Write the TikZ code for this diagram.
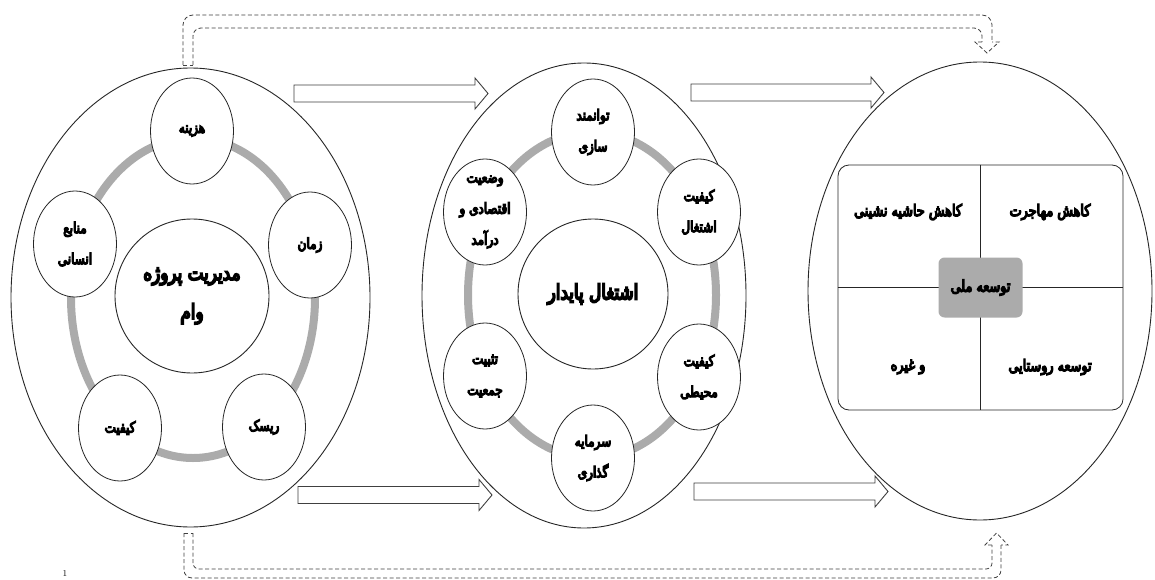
\documentclass[tikz,border=0pt]{standalone}
\usepackage{fontspec}
\usetikzlibrary{shapes.geometric}
\TeXXeTstate=1
\newfontfamily\arabicfont[Script=Arabic, FakeBold=8, FakeStretch=0.8]{DejaVu Sans}
\newcommand{\prl}[1]{\beginR #1\endR}
\newcommand{\blockarr}[4]{% name, tail x, mid y, tip x
  \draw[blockarrow] (#2,#3-8.5) -- (#4-13,#3-8.5) -- (#4-13,#3-15.5) -- (#4,#3)
     -- (#4-13,#3+15.5) -- (#4-13,#3+8.5) -- (#2,#3+8.5) -- cycle;
  \coordinate (#1) at (#4,#3);}
\begin{document}
\begin{tikzpicture}[x=1pt,y=-1pt,
  big/.style={ellipse, draw=black!85, line width=0.9pt, fill=white, inner sep=0pt},
  ring/.style={ellipse, draw=black!33, line width=8pt, inner sep=0pt},
  hub/.style={circle, draw=black!85, line width=0.9pt, fill=white, inner sep=0pt,
     align=center, font={\arabicfont\fontsize{21pt}{39pt}\selectfont}},
  sat/.style={ellipse, draw=black!85, line width=0.8pt, fill=white, inner sep=0pt,
     minimum width=83pt, minimum height=106pt, align=center,
     font={\arabicfont\fontsize{15pt}{31pt}\selectfont}},
  quad/.style={font={\arabicfont\fontsize{16pt}{20pt}\selectfont}},
  blockarrow/.style={draw=black!75, line width=0.9pt, fill=white},
  hollowdash/.style={draw=black!75, line width=0.8pt, dash pattern=on 4pt off 2.5pt}]
\useasboundingbox (0,0) rectangle (1155,580);
\fill[white] (0,0) rectangle (1155,580);

% ---------- left group ----------
\node[big, minimum width=359pt, minimum height=459pt] (L) at (190.5,297.5) {};
\node[ring, minimum width=244pt, minimum height=320pt] (Lring) at (193,298) {};
\node[hub, minimum size=154pt] (Lhub) at (192,296) {\prl{مدیریت پروژه}\\\prl{وام}};
\node[sat] (l1) at (192,131) {\prl{هزینه}};
\node[sat] (l2) at (310,245) {\prl{زمان}};
\node[sat] (l3) at (264,427) {\prl{ریسک}};
\node[sat] (l4) at (120,428) {\prl{کیفیت}};
\node[sat] (l5) at (75,244) {\prl{منابع}\\\prl{انسانی}};

% ---------- middle group ----------
\node[big, minimum width=324pt, minimum height=465pt] (M) at (584,295.5) {};
\node[ring, minimum width=248pt, minimum height=326pt] (Mring) at (592,295) {};
\node[hub, minimum size=150pt] (Mhub) at (593,294) {\prl{اشتغال پایدار}};
\node[sat] (m1) at (593,132) {\prl{توانمند}\\\prl{سازی}};
\node[sat] (m2) at (699,212) {\prl{کیفیت}\\\prl{اشتغال}};
\node[sat] (m3) at (699,377) {\prl{کیفیت}\\\prl{محیطی}};
\node[sat] (m4) at (593,458) {\prl{سرمایه}\\\prl{گذاری}};
\node[sat] (m5) at (485,376) {\prl{تثبیت}\\\prl{جمعیت}};
\node[sat] (m6) at (485,212) {\prl{وضعیت}\\\prl{اقتصادی و}\\\prl{درآمد}};

% ---------- right group ----------
\node[big, minimum width=344pt, minimum height=458pt] (R) at (980,291) {};
\node[draw=black!85, line width=0.8pt, rounded corners=11pt, fill=white,
      minimum width=285pt, minimum height=245pt, inner sep=0pt] (box) at (980.5,287.5) {};
\draw[black!85, line width=0.8pt] (box.north) -- (box.south);
\draw[black!85, line width=0.8pt] (box.west) -- (box.east);
\node[fill=black!33, rounded corners=6pt, minimum width=84pt, minimum height=60pt,
      inner sep=0pt, quad] (core) at (box.center) {\prl{توسعه ملی}};
\node[quad] (q1) at (1050,212) {\prl{کاهش مهاجرت}};
\node[quad] (q2) at (908,212) {\prl{کاهش حاشیه نشینی}};
\node[quad] (q3) at (1050,367) {\prl{توسعه روستایی}};
\node[quad] (q4) at (908,367) {\prl{و غیره}};

% ---------- block arrows ----------
\blockarr{a1}{294}{93.5}{488}
\blockarr{a2}{298}{495}{492}
\blockarr{a3}{691}{92.5}{884}
\blockarr{a4}{694}{491.5}{888}

% ---------- dashed hollow bent arrows ----------
\draw[hollowdash, rounded corners=10pt] (183,65) -- (183,15) -- (992,15) -- (992,42);
\draw[hollowdash, rounded corners=8pt] (193,65) -- (193,28) -- (982,28) -- (982,42);
\draw[hollowdash] (183,65) -- (193,65);
\draw[hollowdash] (982,42) -- (975,42) -- (987,53) -- (999,42) -- (992,42);

\draw[hollowdash, rounded corners=8pt] (184,533) -- (184,578) -- (1001,578) -- (1001,545);
\draw[hollowdash, rounded corners=6pt] (193,533) -- (193,569) -- (992,569) -- (992,545);
\draw[hollowdash] (184,533) -- (193,533);
\draw[hollowdash] (992,545) -- (985,545) -- (996.5,533) -- (1008,545) -- (1001,545);

\node[font=\fontsize{9pt}{10pt}\selectfont, inner sep=0pt] (pg) at (65,573) {1};
\end{tikzpicture}
\end{document}
